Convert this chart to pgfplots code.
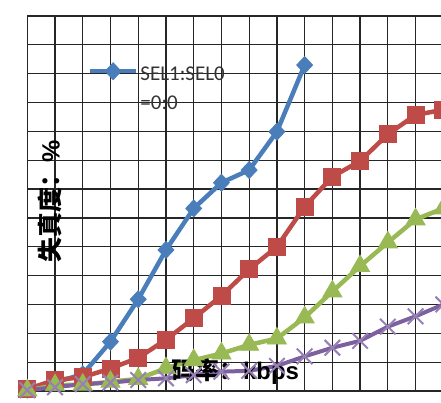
\documentclass[border=0pt]{standalone}
\usepackage{fontspec}
\setmainfont{Carlito}
\newfontfamily\cjk{Noto Sans CJK SC}
\newfontfamily\arialb{Liberation Sans}
\usepackage{pgfplots}
\pgfplotsset{compat=1.18}
\definecolor{cblue}{HTML}{4A7EBB}
\definecolor{cred}{HTML}{BE4B48}
\definecolor{cgreen}{HTML}{98B954}
\definecolor{cpurple}{HTML}{7D60A0}
\begin{document}
\begin{tikzpicture}
\useasboundingbox (0,0) rectangle (441pt,402pt);
\begin{axis}[
  at={(27.3pt,11pt)}, anchor=south west, scale only axis,
  width=416pt, height=375pt,
  xmin=0, xmax=15, ymin=0, ymax=13,
  xtick={0,...,15}, ytick={0,...,13},
  xticklabels={}, yticklabels={},
  major tick length=0pt,
  grid=major, grid style={black!85, line width=1.3pt},
  axis line style={black!85, line width=1.3pt},
  legend style={at={(rel axis cs:0.138,0.893)}, anchor=north west, draw=none, fill=none,
    font=\fontsize{21}{29}\selectfont, text=black!80},
  legend image code/.code={\draw[mark repeat=2,mark phase=2] plot coordinates {(0pt,0pt) (23pt,0pt) (46pt,0pt)};},
]
\addplot[cblue, line width=4.5pt, mark=diamond*, mark size=8.5pt, mark options={xscale=1.25, line width=0.8pt}]
 coordinates {(0,0.05) (1,0.3) (2,0.58) (3,1.71) (4,3.18) (5,4.89) (6,6.33) (7,7.22) (8,7.66) (9,8.99) (10,11.3)};
\addlegendentry{\begin{tabular}[t]{@{}l@{}}SEL1:SEL0\\=0:0\end{tabular}}
\addplot[cred, line width=4.5pt, mark=square*, mark size=8.5pt, mark options={line width=0.8pt}]
 coordinates {(0,0.07) (1,0.38) (2,0.48) (3,0.78) (4,1.15) (5,1.78) (6,2.52) (7,3.3) (8,4.22) (9,5.0) (10,6.39) (11,7.43) (12,7.97) (13,8.9) (14,9.57) (15,9.75)};
\addplot[cgreen, line width=4.5pt, mark=triangle*, mark size=11pt, mark options={line width=0.8pt}]
 coordinates {(0,0.02) (1,0.2) (2,0.22) (3,0.32) (4,0.42) (5,0.79) (6,1.07) (7,1.3) (8,1.6) (9,1.82) (10,2.55) (11,3.45) (12,4.33) (13,5.15) (14,5.95) (15,6.33)};
\addplot[cpurple, line width=4pt, mark=x, mark size=11pt, mark options={line width=2pt, draw=cpurple!80}]
 coordinates {(0,0.03) (1,0.13) (2,0.24) (3,0.29) (4,0.38) (5,0.44) (6,0.55) (7,0.67) (8,0.7) (9,0.87) (10,1.2) (11,1.5) (12,1.74) (13,2.23) (14,2.59) (15,3.0)};
\node[rotate=90, font=\fontsize{25}{30}\selectfont] at (axis cs:0.82,6.59) {{\cjk\bfseries 失真度：}{\arialb\bfseries\%}};
\node[font=\fontsize{24}{29}\selectfont] at (axis cs:7.49,0.66) {{\cjk\bfseries 码率：}{\arialb\bfseries kbps}};
\end{axis}
\end{tikzpicture}
\end{document}
